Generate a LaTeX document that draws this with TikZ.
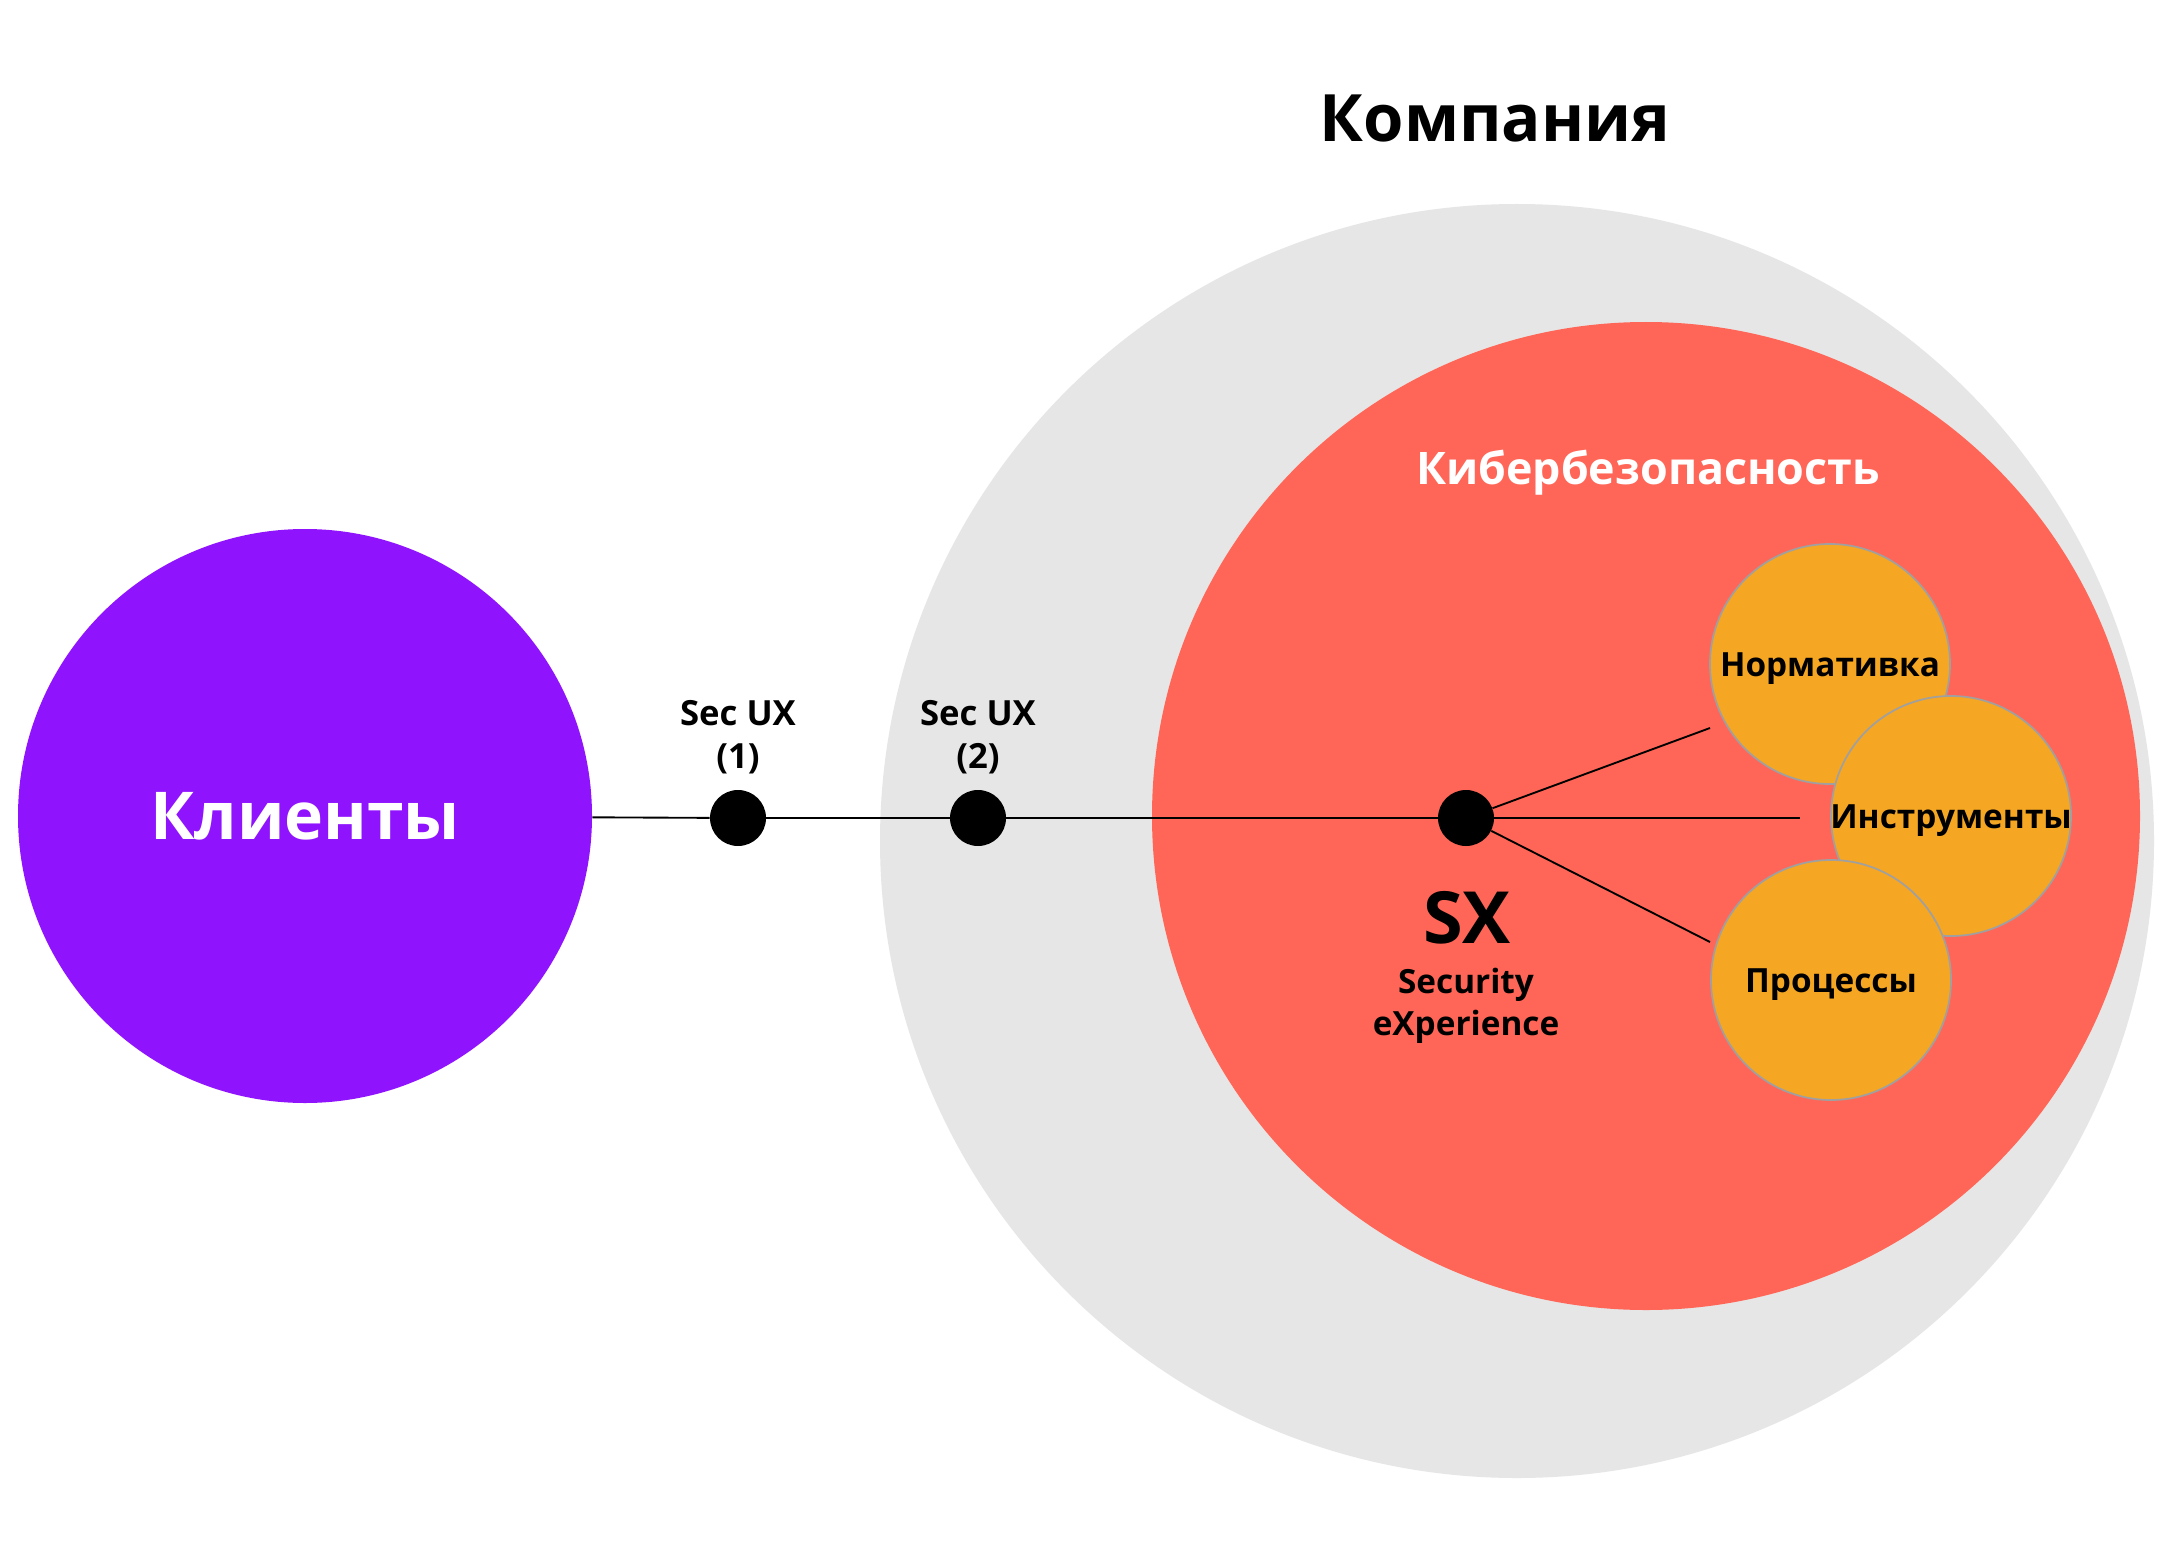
\documentclass[tikz,border=0pt]{standalone}
\usepackage{fontspec}
\setmainfont{Open Sans}
\definecolor{purplec}{HTML}{9013FE}
\definecolor{greyc}{HTML}{E6E6E6}
\definecolor{redc}{HTML}{FF6657}
\definecolor{orangec}{HTML}{F5A623}
\definecolor{rimc}{HTML}{A0A0A0}
\begin{document}
\begin{tikzpicture}[x=0.75pt,y=-0.75pt,
  bigcircle/.style={circle,inner sep=0pt},
  dotnode/.style={circle,fill=black,minimum size=42pt,inner sep=0pt},
  subcircle/.style={circle,fill=orangec,draw=rimc,line width=1.3pt,minimum size=180pt,inner sep=0pt},
  subtext/.style={font=\bfseries\fontsize{25pt}{30pt}\selectfont,text height=18pt,text depth=0pt,inner sep=0pt},
  conn/.style={line width=1.4pt,draw=black},
  twoline/.style={font=\bfseries\fontsize{26pt}{32pt}\selectfont,align=center,anchor=base}
]
\useasboundingbox (0,0) rectangle (2162,1544);
\fill[white] (0,0) rectangle (2162,1544);
% big circles
\node[bigcircle,fill=greyc,minimum size=955.5pt] (company) at (1517,841) {};
\node[bigcircle,fill=redc,minimum size=741pt] (cyber) at (1646,816) {};
\node[bigcircle,fill=purplec,minimum size=430.5pt,text=white,font=\bfseries\fontsize{49.5pt}{56pt}\selectfont] (clients) at (305,816) {Клиенты};
% titles
\node[anchor=base,font=\bfseries\fontsize{49pt}{56pt}\selectfont] (companyt) at (1495,142) {Компания};
\node[anchor=base,text=white,font=\bfseries\fontsize{33.6pt}{40pt}\selectfont] (cybert) at (1648,484) {Кибербезопасность};
% sub circles
\node[subcircle,label={[subtext]center:Нормативка}] (norm) at (1830,664) {};
\node[subcircle,label={[subtext]center:Инструменты}] (tools) at (1951,816) {};
\node[subcircle,label={[subtext]center:Процессы}] (proc) at (1831,980) {};
% dots
\node[dotnode] (d1) at (738,818) {};
\node[dotnode] (d2) at (978,818) {};
\node[dotnode] (d3) at (1466,818) {};
% free ends of the fan
\coordinate (e1) at (1710,728);
\coordinate (e2) at (1800,818);
\coordinate (e3) at (1710,942);
% connectors
\draw[conn] (clients) -- (d1);
\draw[conn] (d1) -- (d2);
\draw[conn] (d2) -- (d3);
\draw[conn] (d3) -- (e1);
\draw[conn] (d3) -- (e2);
\draw[conn] (d3) -- (e3);
% labels
\node[twoline] (l1) at (738,768) {Sec UX\\(1)};
\node[twoline] (l2) at (978,768) {Sec UX\\(2)};
\node[anchor=base,font=\bfseries\fontsize{54pt}{60pt}\selectfont] (sx) at (1467,943) {SX};
\node[twoline,font=\bfseries\fontsize{25pt}{31.5pt}\selectfont] (sxt) at (1466,1035) {Security\\eXperience};
\end{tikzpicture}
\end{document}
